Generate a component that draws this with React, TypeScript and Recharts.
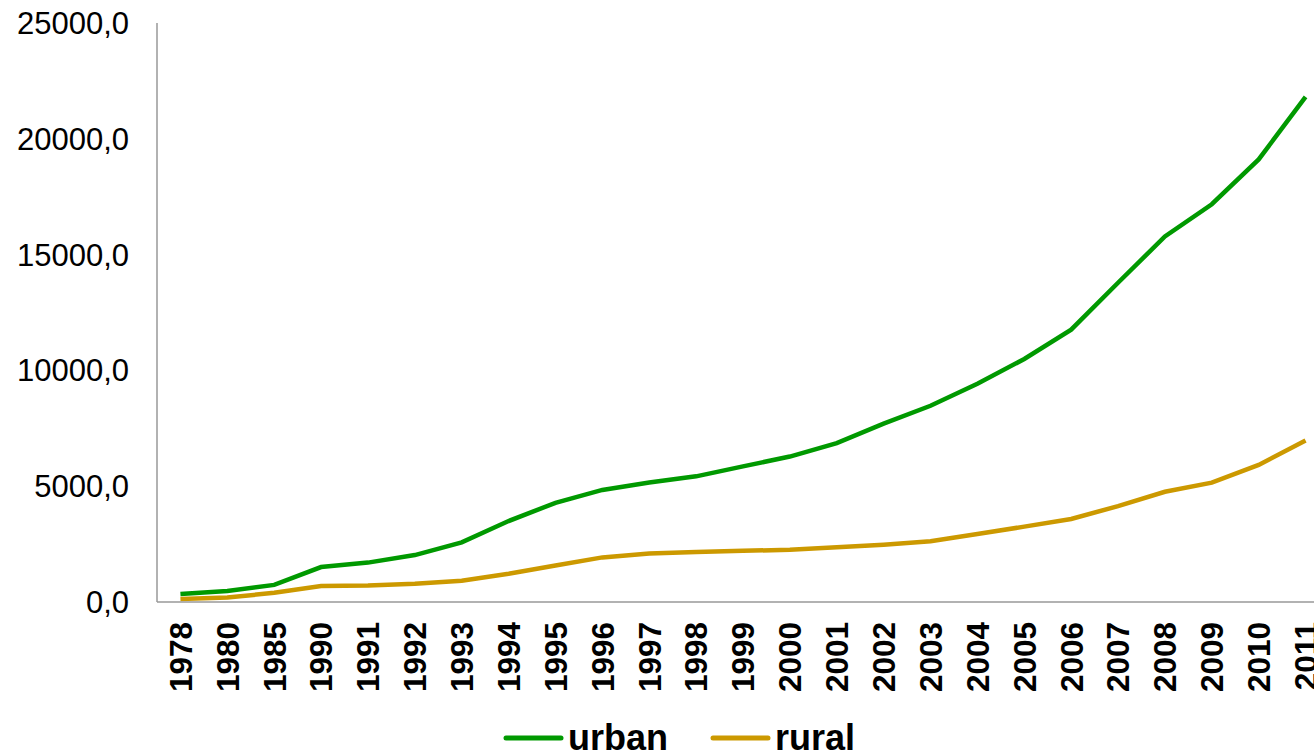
import React from 'react';
import { LineChart, Line, XAxis, YAxis, Legend } from 'recharts';

const years = ['1978','1980','1985','1990','1991','1992','1993','1994','1995','1996','1997','1998','1999','2000','2001','2002','2003','2004','2005','2006','2007','2008','2009','2010','2011'];
const urban = [343.4,477.6,739.1,1510.2,1700.6,2026.6,2577.4,3496.2,4283.0,4838.9,5160.3,5425.1,5854.0,6280.0,6859.6,7702.8,8472.2,9421.6,10493.0,11759.5,13785.8,15780.8,17174.7,19109.4,21809.8];
const rural = [133.6,191.3,397.6,686.3,708.6,784.0,921.6,1221.0,1577.7,1926.1,2090.1,2162.0,2210.3,2253.4,2366.4,2475.6,2622.2,2936.4,3254.9,3587.0,4140.4,4760.6,5153.2,5919.0,6977.3];
const yTicks = [0, 5000, 10000, 15000, 20000, 25000];

const seriesInfo = [
  { key: 'urban', color: '#009900', left: 503 },
  { key: 'rural', color: '#CC9900', left: 710 },
];

const data = years.map((y, i) => ({ year: y, urban: urban[i], rural: rural[i] }));

const FONT = '"Liberation Sans", Arial, sans-serif';

const YearTick = (props: any) => {
  const { x, y, payload } = props;
  return (
    <g transform={`translate(${x},${y + 20}) rotate(-90)`}>
      <text textAnchor="end" dy="0.36em" fontFamily={FONT} fontWeight="bold" fontSize={31.5} fill="#000">
        {payload.value}
      </text>
    </g>
  );
};

// Legend box is 55px tall; the row of entries sits in its lower part
const LegendContent = () => (
  <div style={{ position: 'relative', width: 1330, height: 55, overflow: 'visible', fontFamily: FONT, fontWeight: 'bold', fontSize: 36, lineHeight: '36px', color: '#000' }}>
    {seriesInfo.map((s) => (
      <div key={s.key} style={{ position: 'absolute', left: s.left, top: 23, height: 36, display: 'flex', alignItems: 'center' }}>
        <svg width={62} height={10} style={{ marginRight: 3 }}>
          <line x1={3} y1={5} x2={58} y2={5} stroke={s.color} strokeWidth={5} strokeLinecap="round" />
        </svg>
        <span>{s.key}</span>
      </div>
    ))}
  </div>
);

export default function App() {
  return (
    <div style={{ position: 'absolute', left: 0, top: 0, width: 1314, height: 752, overflow: 'hidden', background: '#fff' }}>
      <LineChart width={1330} height={752} data={data} margin={{ top: 23, right: 1, bottom: 0, left: 0 }}>
        <XAxis
          dataKey="year"
          scale="band"
          interval={0}
          height={95}
          tickLine={false}
          tickSize={0}
          tickMargin={0}
          axisLine={{ stroke: '#999999', strokeWidth: 1.5 }}
          tick={<YearTick />}
        />
        <YAxis
          width={157}
          domain={[0, 25000]}
          ticks={yTicks}
          tickLine={false}
          tickSize={0}
          tickMargin={28}
          axisLine={{ stroke: '#999999', strokeWidth: 1.5 }}
          tickFormatter={(v: number) => v.toFixed(1).replace('.', ',')}
          tick={{ fill: '#000', fontSize: 31, fontFamily: FONT }}
        />
        <Legend
          verticalAlign="bottom"
          height={55}
          content={<LegendContent />}
          wrapperStyle={{ left: 0, width: 1330, height: 55 }}
        />
        {seriesInfo.map((s) => (
          <Line key={s.key} type="linear" dataKey={s.key} stroke={s.color} strokeWidth={4.5} dot={false} isAnimationActive={false} />
        ))}
      </LineChart>
    </div>
  );
}
